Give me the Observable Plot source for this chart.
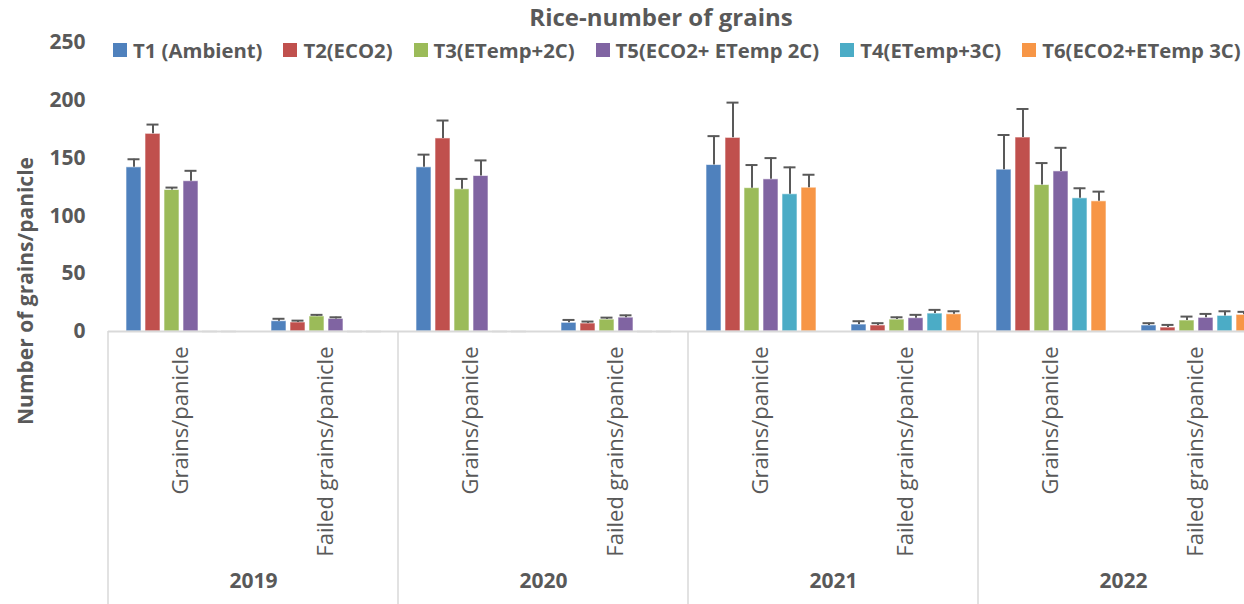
<!DOCTYPE html>
<html><head><meta charset="utf-8">
<script src="https://cdn.jsdelivr.net/npm/d3@7"></script>
<script src="https://cdn.jsdelivr.net/npm/@observablehq/plot@0.6"></script>
<style>
body{margin:0;background:#fff;font-family:"Open Sans",sans-serif;color:#595959}
#wrap{position:relative;width:1244px;height:604px;overflow:hidden;background:#fff}
#chart{position:absolute;left:0;top:0;width:1270px;height:604px}
#chart svg{max-width:none !important}
#title{position:absolute;top:2px;left:661px;transform:translateX(-50%);font-weight:700;font-size:24px;line-height:30px;white-space:nowrap}
#legend{position:absolute;top:37px;left:113px;display:flex;gap:21px;font-weight:700;font-size:20.3px;line-height:26px;white-space:nowrap}
.item{display:flex;align-items:center;gap:6px}
.sw{width:14px;height:14px;display:inline-block}
#ylab{position:absolute;left:25px;top:291px;transform:translate(-50%,-50%) rotate(-90deg);font-weight:700;font-size:21px;white-space:nowrap}
</style></head>
<body>
<div id="wrap">
  <div id="chart"></div>
  <div id="title"></div>
  <div id="legend"></div>
  <div id="ylab"></div>
</div>
<script>
const titleText = "Rice-number of grains";
const yLabel = "Number of grains/panicle";
const years = ["2019", "2020", "2021", "2022"];
const categories = ["Grains/panicle", "Failed grains/panicle"];
const series = ["T1 (Ambient)", "T2(ECO2)", "T3(ETemp+2C)", "T5(ECO2+ ETemp 2C)", "T4(ETemp+3C)", "T6(ECO2+ETemp 3C)"];
const colors = ["#4F81BD", "#C0504D", "#9BBB59", "#8064A2", "#4BACC6", "#F79646"];
const yTicks = [0, 50, 100, 150, 200, 250];

// order: 2019 G, 2019 F, 2020 G, 2020 F, 2021 G, 2021 F, 2022 G, 2022 F
const T1 = [142, 8.9, 142, 7.5, 144, 6.0, 140, 5.2];
const T1err = [7, 2.1, 11, 2.5, 25, 2.9, 30, 2.0];
const T2 = [171, 7.8, 167, 6.9, 167.5, 5.2, 167.8, 3.4];
const T2err = [8, 1.6, 15.5, 1.7, 30.5, 2.0, 24.7, 2.3];
const T3 = [122.4, 13, 123, 10.3, 124, 10.3, 126.7, 9.5];
const T3err = [2.1, 1.4, 9, 1.7, 20, 2.0, 19, 3.4];
const T5 = [130, 10.9, 134.5, 12, 131.6, 11.5, 138.5, 11.8];
const T5err = [9, 1.4, 13.5, 2.0, 18.4, 2.9, 20.4, 3.4];
const T4 = [0, 0, 0, 0, 118.7, 15.5, 115.2, 13.5];
const T4err = [0, 0, 0, 0, 23.3, 3.2, 8.7, 4.0];
const T6 = [0, 0, 0, 0, 124.4, 14.9, 112.6, 14.4];
const T6err = [0, 0, 0, 0, 11.2, 2.6, 8.4, 2.6];

const seriesValues = [T1, T2, T3, T5, T4, T6];
const seriesErrors = [T1err, T2err, T3err, T5err, T4err, T6err];

const fxDomain = [];
years.forEach(y => categories.forEach(c => fxDomain.push(`${y}|${c}`)));

const data = [];
series.forEach((s, si) => {
  fxDomain.forEach((k, ki) => {
    data.push({key: k, series: s, value: seriesValues[si][ki], err: seriesErrors[si][ki]});
  });
});

document.getElementById("title").textContent = titleText;
document.getElementById("ylab").textContent = yLabel;
const legend = document.getElementById("legend");
series.forEach((s, i) => {
  const it = document.createElement("div"); it.className = "item";
  const sw = document.createElement("span"); sw.className = "sw"; sw.style.background = colors[i];
  const t = document.createElement("span"); t.textContent = s;
  it.appendChild(sw); it.appendChild(t); legend.appendChild(it);
});

const textColor = "#595959";
const plot = Plot.plot({
  width: 1270, height: 604,
  marginTop: 42, marginBottom: 273, marginLeft: 108, marginRight: 2,
  style: {fontFamily: "Open Sans", color: textColor, background: "white", overflow: "visible"},
  fx: {domain: fxDomain, padding: 0, axis: null},
  x: {domain: series, paddingInner: 0.22, paddingOuter: 0.865, axis: null},
  y: {domain: [0, 250], axis: null},
  color: {domain: series, range: colors},
  marks: [
    Plot.axisY({ticks: yTicks, tickSize: 0, tickPadding: 23, fontSize: 21, fontWeight: "bold", fill: textColor, label: null}),
    Plot.axisFx({anchor: "bottom", domain: fxDomain, tickSize: 0, tickPadding: 15, tickRotate: -90, fontSize: 22, fill: textColor,
      tickFormat: d => d.split("|")[1], label: null}),
    Plot.barY(data.filter(d => d.value > 0), {fx: "key", x: "series", y: "value", fill: "series", stroke: "white", strokeOpacity: 0.6, strokeWidth: 1}),
    Plot.tickY(data.filter(d => d.value === 0), {fx: "key", x: "series", y: 0, stroke: "#e0e0e0", strokeWidth: 2}),
    Plot.ruleY([0], {stroke: "#d9d9d9", strokeWidth: 2}),
    Plot.ruleX(data.filter(d => d.value > 0), {fx: "key", x: "series", y1: "value", y2: d => d.value + d.err, stroke: "#595959", strokeWidth: 2}),
    Plot.tickY(data.filter(d => d.value > 0), {fx: "key", x: "series", y: d => d.value + d.err, stroke: "#595959", strokeWidth: 2, insetLeft: 1.5, insetRight: 1.5}),
    Plot.text(years, {fx: y => `${y}|${categories[1]}`, text: d => d, frameAnchor: "bottom-left", textAnchor: "middle", dy: 256, fontSize: 21, fontWeight: "bold", fill: textColor})
  ]
});
plot.style.maxWidth = "none";

// group separators below the axis, placed with the plot's own scales
const fx = plot.scale("fx");
const ys = plot.scale("y");
const svg = d3.select(plot);
years.concat(["end"]).forEach((y, i) => {
  let x0;
  if (i < years.length) x0 = fx.apply(`${y}|${categories[0]}`);
  else x0 = fx.apply(`${years[years.length - 1]}|${categories[1]}`) + fx.bandwidth;
  svg.append("line").attr("x1", x0).attr("x2", x0)
    .attr("y1", ys.apply(0)).attr("y2", 604)
    .attr("stroke", "#d9d9d9").attr("stroke-width", 1.5);
});

document.getElementById("chart").appendChild(plot);
</script>
</body></html>
